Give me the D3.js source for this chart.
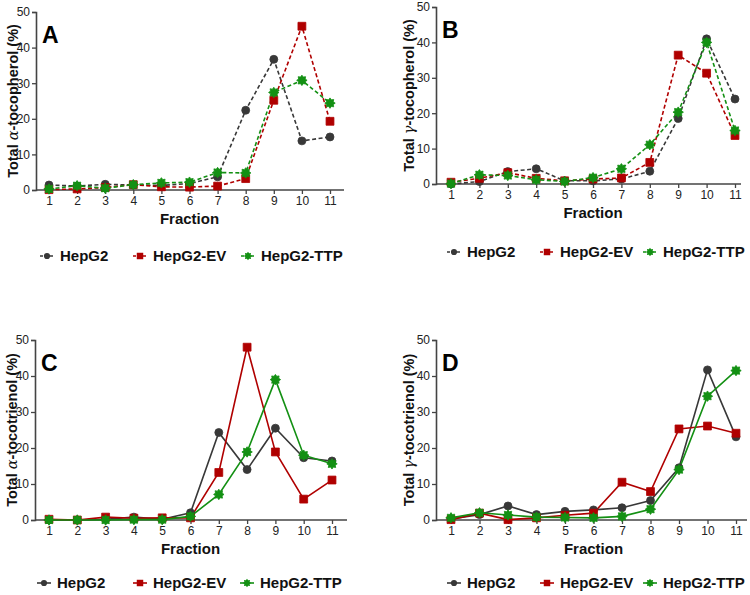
<!DOCTYPE html>
<html><head><meta charset="utf-8">
<script src="https://cdn.jsdelivr.net/npm/d3@7"></script>
<style>body{margin:0;background:#fff;} text{font-family:Arial,"Liberation Sans",sans-serif;}</style>
</head><body><svg id="c" width="750" height="595"></svg>
<script>
const fractions = [1,2,3,4,5,6,7,8,9,10,11];
const yTicks = [0,10,20,30,40,50];
const seriesNames = ["HepG2","HepG2-EV","HepG2-TTP"];
const seriesColors = ["#383838","#b00000","#139013"];
const seriesSymbols = ["circle","square","star"];

// Panel A: Total alpha-tocopherol
const aHepG2 = [1.4,1.1,1.6,1.4,1.3,1.8,3.7,22.4,36.7,13.8,14.9];
const aEV    = [0.1,0.3,0.7,1.5,0.9,0.8,1.1,3.2,25.2,46.0,19.3];
const aTTP   = [0.3,1.2,0.5,1.5,2.0,2.2,4.9,4.8,27.4,30.8,24.4];
// Panel B: Total gamma-tocopherol
const bHepG2 = [0.0,0.7,3.5,4.3,0.9,0.9,1.4,3.6,18.5,41.0,24.0];
const bEV    = [0.5,1.6,3.2,1.6,0.9,1.4,1.7,6.1,36.4,31.3,13.7];
const bTTP   = [0.1,2.6,2.4,1.2,0.7,1.8,4.3,11.1,20.3,40.0,15.1];
// Panel C: Total alpha-tocotrienol
const cHepG2 = [0.0,0.0,0.2,0.8,0.2,2.0,24.3,14.0,25.5,17.3,16.4];
const cEV    = [0.2,0.0,0.8,0.5,0.6,0.6,13.2,48.0,18.9,5.8,11.1];
const cTTP   = [0.0,0.0,0.0,0.1,0.1,1.0,7.1,18.9,39.0,18.0,15.6];
// Panel D: Total gamma-tocotrienol
const dHepG2 = [0.3,1.5,3.9,1.5,2.4,2.8,3.4,5.4,14.5,41.7,23.1];
const dEV    = [0.1,1.9,0.1,0.6,1.3,1.9,10.5,7.9,25.3,26.1,24.1];
const dTTP   = [0.6,2.0,1.4,0.8,0.7,0.6,1.0,3.0,14.0,34.4,41.5];

const panels = [
  {letter:"A", greek:"α", name:"-tocopherol (%)", data:[aHepG2,aEV,aTTP], dashed:true,
   ax:36, axEnd:344, x1:49, x11:330, yTop:12, yBot:190, titleX:13, fracY:224, legY:256, legX:[40,133,241]},
  {letter:"B", greek:"γ", name:"-tocopherol (%)", data:[bHepG2,bEV,bTTP], dashed:true,
   ax:436, axEnd:741, x1:451, x11:735, yTop:7, yBot:184, titleX:409, fracY:218, legY:252, legX:[447,540,643]},
  {letter:"C", greek:"α", name:"-tocotrienol (%)", data:[cHepG2,cEV,cTTP], dashed:false,
   ax:35, axEnd:347, x1:49, x11:332, yTop:340, yBot:520, titleX:12, fracY:554, legY:583, legX:[37,133,240]},
  {letter:"D", greek:"γ", name:"-tocotrienol (%)", data:[dHepG2,dEV,dTTP], dashed:false,
   ax:436, axEnd:747, x1:451, x11:736, yTop:340, yBot:520, titleX:409, fracY:554, legY:583, legX:[447,540,643]}
];

// 8-point blunt star like the reference's green marker
const star8 = {
  draw(ctx, size){
    const R = Math.sqrt(size/2.2), r = R*0.68;
    for(let k=0;k<16;k++){
      const a = Math.PI*k/8 - Math.PI/2;
      const rad = k%2===0?R:r;
      const px = rad*Math.cos(a), py = rad*Math.sin(a);
      if(k===0) ctx.moveTo(px,py); else ctx.lineTo(px,py);
    }
    ctx.closePath();
  }
};
function symType(kind){
  return kind==="circle"?d3.symbolCircle:kind==="square"?d3.symbolSquare:star8;
}
const markerSize = {circle:50, square:62, star:60};
const legendSize = {circle:30, square:42, star:40};

const svg = d3.select("#c");
const axisColor = "#444";

panels.forEach(p=>{
  const g = svg.append("g");
  const x = d3.scaleLinear().domain([1,11]).range([p.x1,p.x11]);
  const y = d3.scaleLinear().domain([0,50]).range([p.yBot,p.yTop]);

  const yAx = g.append("g").attr("transform",`translate(${p.ax},0)`)
    .call(d3.axisLeft(y).tickValues(yTicks).tickSize(4).tickPadding(2));
  const xAx = g.append("g").attr("transform",`translate(0,${p.yBot})`)
    .call(d3.axisBottom(x).tickValues(fractions).tickSize(4).tickPadding(2));
  xAx.select(".domain").attr("d",`M${p.ax},0H${p.axEnd}`);
  [yAx,xAx].forEach(a=>{
    a.selectAll(".domain").attr("stroke",axisColor).attr("stroke-width",1.6);
    a.selectAll(".tick line").attr("stroke",axisColor).attr("stroke-width",1.3);
    a.selectAll(".tick text").attr("fill","#222").style("font-size","12px").style("font-family","Arial, 'Liberation Sans', sans-serif");
  });

  const yMid = (p.yTop+p.yBot)/2;
  const t = g.append("text").attr("transform",`translate(${p.titleX},${yMid}) rotate(-90)`)
    .attr("text-anchor","middle").attr("dy","0.35em")
    .style("font-size","14.5px").style("font-weight","bold").attr("fill","#111");
  t.append("tspan").text("Total ");
  t.append("tspan").text(p.greek).style("font-family","'DejaVu Serif','Liberation Serif',serif").style("font-weight","normal").style("font-style","italic");
  t.append("tspan").text(p.name);

  g.append("text").attr("x",(p.x1+p.x11)/2).attr("y",p.fracY).attr("text-anchor","middle")
    .style("font-size","15px").style("font-weight","bold").attr("fill","#111").text("Fraction");

  g.append("text").attr("x",p.ax+6).attr("y",p.yTop+31).style("font-size","23px")
    .style("font-weight","bold").attr("fill","#000").text(p.letter);

  const line = d3.line().x((d,i)=>x(fractions[i])).y(d=>y(d));
  p.data.forEach((vals,si)=>{
    g.append("path").datum(vals).attr("d",line).attr("fill","none")
      .attr("stroke",seriesColors[si]).attr("stroke-width",1.6)
      .attr("stroke-dasharray",p.dashed?"4,2.5":null);
  });
  p.data.forEach((vals,si)=>{
    const kind = seriesSymbols[si];
    g.selectAll(null).data(vals).enter().append("path")
      .attr("d",d3.symbol(symType(kind), markerSize[kind])())
      .attr("transform",(d,i)=>`translate(${x(fractions[i])},${y(d)})`)
      .attr("fill",seriesColors[si]).attr("stroke",seriesColors[si]).attr("stroke-width",0.8);
  });

  seriesNames.forEach((nm,si)=>{
    const lx = p.legX[si];
    const kind = seriesSymbols[si];
    const lg = g.append("g");
    lg.append("line").attr("x1",lx).attr("x2",lx+14).attr("y1",p.legY).attr("y2",p.legY)
      .attr("stroke",seriesColors[si]).attr("stroke-width",1.6)
      .attr("stroke-dasharray",p.dashed?"3,2":null);
    lg.append("path").attr("d",d3.symbol(symType(kind), legendSize[kind])())
      .attr("transform",`translate(${lx+7},${p.legY})`).attr("fill",seriesColors[si]);
    lg.append("text").attr("x",lx+20).attr("y",p.legY).attr("dy","0.35em")
      .style("font-size","15px").style("font-weight","bold").attr("fill","#111").text(nm);
  });
});
</script></body></html>
